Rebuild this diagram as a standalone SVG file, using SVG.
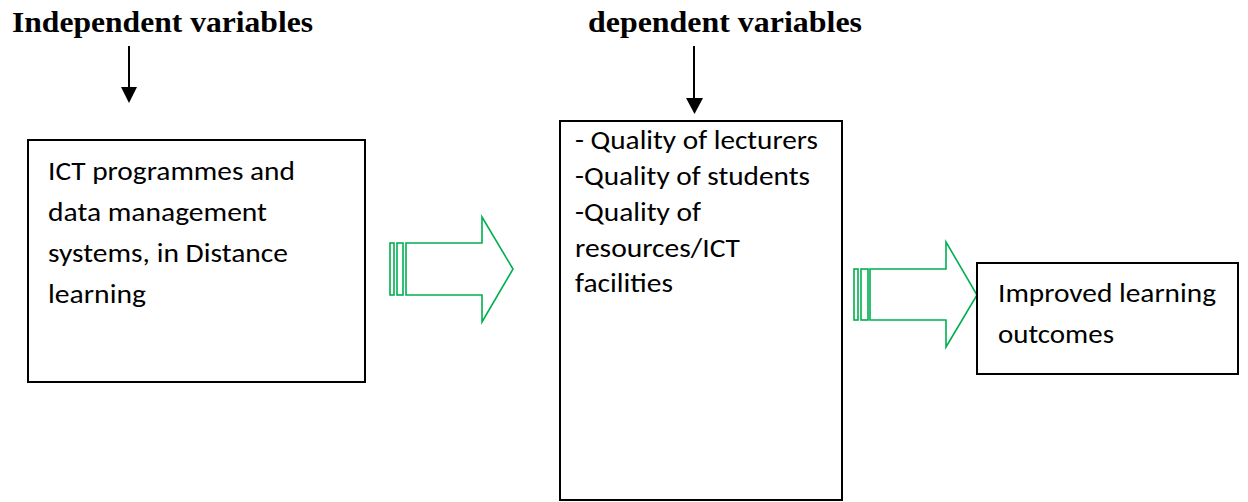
<svg xmlns="http://www.w3.org/2000/svg" width="1248" height="502" viewBox="0 0 1248 502">
  <style>
    .title { font-family: "Liberation Serif", "Times New Roman", serif; font-weight: bold; font-size: 30px; fill: #000; }
    .body { font-family: Carlito, Calibri, "Liberation Sans", Arial, sans-serif; font-size: 27.5px; fill: #000; }
    .box { fill: #fff; stroke: #000; stroke-width: 2; }
    .flow { fill: #fff; stroke: #00B050; stroke-width: 1.6; stroke-linejoin: miter; }
    .down { stroke: #000; stroke-width: 2; fill: none; }
    .tip { fill: #000; }
  </style>
  <rect width="1248" height="502" fill="#fff"/>

  <!-- column headings -->
  <g id="heading-independent">
    <text class="title" x="12" y="32" textLength="301" lengthAdjust="spacingAndGlyphs">Independent variables</text>
  </g>
  <g id="heading-dependent">
    <text class="title" x="588" y="32" textLength="274" lengthAdjust="spacingAndGlyphs">dependent variables</text>
  </g>

  <!-- connectors -->
  <g id="connectors">
    <line class="down" x1="129" y1="46" x2="129" y2="88"/>
    <path class="tip" d="M121,87 L137,87 L129,103 Z"/>
    <line class="down" x1="694" y1="46" x2="694" y2="99"/>
    <path class="tip" d="M686,98 L703,98 L694.5,114 Z"/>

    <!-- striped block arrow: independent to dependent -->
    <g id="flow-1">
      <rect class="flow" x="390" y="243" width="4" height="52"/>
      <rect class="flow" x="397" y="243" width="6" height="52"/>
      <path class="flow" d="M406,243 L482,243 L482,217 L513,269 L482,322 L482,295 L406,295 Z"/>
    </g>
    <!-- striped block arrow: dependent to outcome -->
    <g id="flow-2">
      <rect class="flow" x="854" y="269" width="4" height="51"/>
      <rect class="flow" x="861" y="269" width="7" height="51"/>
      <path class="flow" d="M870,269 L946,269 L946,242 L977,295 L946,347 L946,320 L870,320 Z"/>
    </g>
  </g>

  <!-- independent variable -->
  <g id="node-ict">
    <rect class="box" x="28" y="140" width="337" height="242"/>
    <text class="body" x="48" y="180" textLength="247" lengthAdjust="spacingAndGlyphs">ICT programmes and</text>
    <text class="body" x="48" y="221" textLength="219" lengthAdjust="spacingAndGlyphs">data management</text>
    <text class="body" x="48" y="262" textLength="240" lengthAdjust="spacingAndGlyphs">systems, in Distance</text>
    <text class="body" x="48" y="303" textLength="98" lengthAdjust="spacingAndGlyphs">learning</text>
  </g>

  <!-- dependent variables -->
  <g id="node-quality">
    <rect class="box" x="560" y="121" width="282" height="379"/>
    <text class="body" x="575" y="149" textLength="243" lengthAdjust="spacingAndGlyphs">- Quality of lecturers</text>
    <text class="body" x="575" y="185" textLength="235" lengthAdjust="spacingAndGlyphs">-Quality of students</text>
    <text class="body" x="575" y="221" textLength="126" lengthAdjust="spacingAndGlyphs">-Quality of</text>
    <text class="body" x="575" y="257" textLength="165" lengthAdjust="spacingAndGlyphs">resources/ICT</text>
    <text class="body" x="575" y="292" textLength="98" lengthAdjust="spacingAndGlyphs">facilities</text>
  </g>

  <!-- outcome -->
  <g id="node-outcome">
    <rect class="box" x="977" y="263" width="261" height="111"/>
    <text class="body" x="998" y="302" textLength="218" lengthAdjust="spacingAndGlyphs">Improved learning</text>
    <text class="body" x="998" y="343" textLength="116" lengthAdjust="spacingAndGlyphs">outcomes</text>
  </g>
</svg>
